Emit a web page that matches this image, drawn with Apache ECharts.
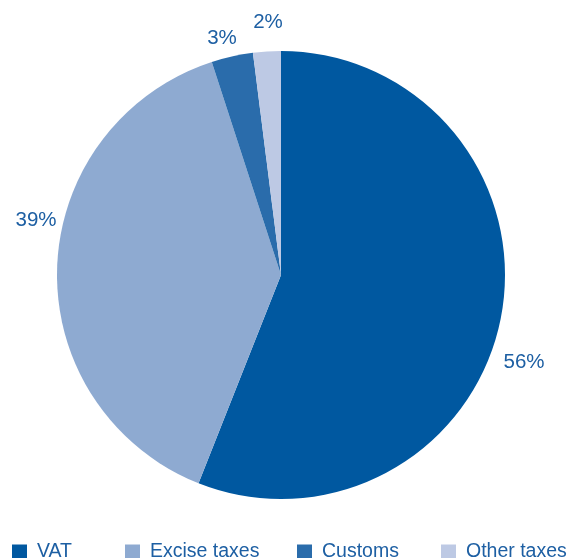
<!DOCTYPE html>
<html>
<head>
<meta charset="utf-8">
<script src="https://cdn.jsdelivr.net/npm/echarts@6/dist/echarts.min.js"></script>
<style>
  html, body { margin: 0; padding: 0; background: #fff; }
  #chart { width: 577px; height: 558px; }
</style>
</head>
<body>
<div id="chart"></div>
<script>
// tax shares (%)
const categories = ['VAT', 'Excise taxes', 'Customs', 'Other taxes'];
const values = [56, 39, 3, 2];
const colors = ['#0058a0', '#8eaad1', '#2a6cab', '#bdc9e4'];

// where the labels sit in the original (not on a radial line)
const labelSpots = [[524, 362], [36, 220], [222, 38], [268, 22]];
const legendLeft = [12, 125, 297, 441];

const chart = echarts.init(document.getElementById('chart'));

chart.setOption({
  backgroundColor: '#fff',
  animation: false,
  color: colors,
  legend: categories.map((name, i) => ({
    data: [name],
    left: legendLeft[i],
    top: 542,
    padding: 0,
    icon: 'rect',
    itemWidth: 15,
    itemHeight: 15,
    textStyle: { fontFamily: 'Liberation Sans', fontSize: 19.5, color: '#1d5fa3', padding: [0, 0, 0, 5] }
  })),
  series: [{
    type: 'pie',
    center: [281, 275],
    radius: 224,
    startAngle: 90,
    clockwise: true,
    avoidLabelOverlap: false,
    data: categories.map((name, i) => ({ name, value: values[i] })),
    itemStyle: { borderWidth: 0 },
    label: {
      show: true,
      position: 'outside',
      formatter: '{c}%',
      fontFamily: 'Liberation Sans',
      fontSize: 20.5,
      color: '#1d5fa3'
    },
    labelLine: { show: false },
    labelLayout: p => ({
      x: labelSpots[p.dataIndex][0],
      y: labelSpots[p.dataIndex][1],
      align: 'center',
      verticalAlign: 'middle'
    }),
    emphasis: { disabled: true }
  }]
});
</script>
</body>
</html>
